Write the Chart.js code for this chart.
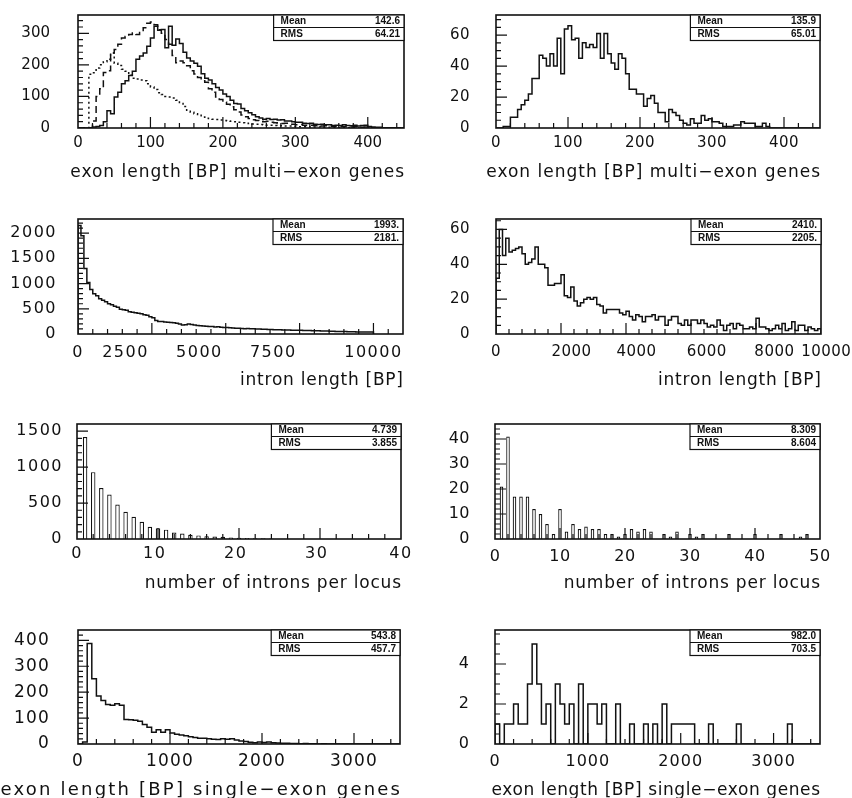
<!DOCTYPE html>
<html>
<head>
<meta charset="utf-8">
<title>Gene structure statistics</title>
<script src="https://cdn.jsdelivr.net/npm/chart.js@4.4.1/dist/chart.umd.min.js"></script>
<style>
  html, body { margin: 0; padding: 0; background: #fff; }
  #page { position: relative; width: 852px; height: 798px; overflow: hidden; background: #fff; }
  #page canvas { position: absolute; }
</style>
</head>
<body>
<div id="page"></div>
<script>
// ---------------- data ----------------
// exon length, multi-exon genes (left): 5 bp bins from 0
const exonBinWidth = 5;
const multiExonLenAll = [0,0,0,1,3,5,8,20,55,45, 98,113,140,150,166,180,218,228,238,259,
  285,322,310,312,254,322,262,282,268,240, 222,212,205,196,172,158,152,140,128,120,
  108,100,88,78,76,62,55,48,42,36, 32,28,30,27,28,25,26,22,22,20,
  18,18,15,14,15,12,11,12,10,10, 8,9,8,10,8,7,9,6,8,9, 5,3,2,2,1,1,1,0,1,0];
const multiExonLenInternal = [0,0,0,0,22,100,124,176,181,238, 249,265,285,290,296,301,296,306,318,332,
  336,327,311,300,280,265,230,207,212,207, 197,181,171,160,150,145,124,113,98,90,
  82,75,67,58,51,41,36,30,26,24, 22,20,21,18,17,15,14,15,12,12,
  10,11,9,8,9,7,8,6,7,6, 5,6,4,5,4,3,4,3,2,3, 2,1,1,1,0,1,0,0,0,0];
const multiExonLenTerminal = [0,0,0,170,175,190,200,210,218,238, 205,198,186,180,167,158,155,152,150,140,
  130,122,112,106,100,98,95,88,78,68, 56,50,45,40,35,31,30,28,27,25,
  24,22,21,20,18,17,15,14,13,12, 11,10,9,9,8,7,7,6,6,5,
  5,4,4,4,3,3,3,2,2,2, 2,1,1,1,1,1,1,0,0,0, 0,0,0,0,0,0,0,0,0,0];
// exon length, multi-exon genes (right)
const multiExonLenRight = [0,0,1,1,7,7,12,15,18,22, 32,32,47,45,40,48,40,58,35,64,
  66,57,58,45,55,52,54,52,61,45, 61,48,42,38,48,45,35,25,25,22,
  22,14,19,21,16,10,10,4,12,10, 8,5,3,2,6,3,3,8,5,6,
  4,4,3,1,1,1,2,2,4,3, 3,3,1,1,3,1,0,0,0,0, 0,0,0,0,0,0,0,0,0,0];

// intron length: 100 bp bins from 0
const intronBinWidth = 100;
const intronLenLeft = [2150,1950,1300,1020,880,800,760,700,670,640, 600,580,550,530,490,480,470,440,430,420,
  410,400,380,370,340,320,270,250,250,240, 235,230,225,215,200,180,185,200,190,180,
  170,165,160,155,150,150,140,145,135,130, 130,125,120,115,115,110,105,108,104,102,
  100,98,95,92,90,88,86,84,82,80, 80,78,76,75,74,72,70,70,68,66,
  64,62,60,60,58,56,55,52,50,50, 48,46,45,44,42,42,40,40,38,38];
const intronLenRight = [32,60,45,55,47,48,49,50,46,40, 41,43,50,40,40,38,28,28,29,29,
  34,22,21,27,19,16,18,20,21,20, 21,17,16,12,14,14,14,14,12,11,
  13,10,8,11,10,7,10,10,11,8, 10,10,5,8,10,10,6,5,8,5,
  8,8,6,8,6,4,5,4,8,5, 2,5,6,3,6,5,3,3,4,3,
  9,4,4,3,2,3,5,3,6,2, 3,7,2,5,5,2,4,3,2,3];

// number of introns per locus
const intronCountLeftN = [1,2,3,4,5,6,7,8,9,10,11,12,13,14,15,16,17,18,19,20,21,22,23,24];
const intronCountLeft = [1420,930,710,620,480,380,310,240,170,150,130,90,75,60,50,40,35,30,20,18,15,12,10,8];
const intronCountRightN = [1,2,3,4,5,6,7,8,9,10,11,12,13,14,15,16,17,18,19,20,21,22,23,24,
  25,26,27,28,29,30,31,32,33,34,35,36,37,38,39,40,41,42,43,44,45,46,47,48];
const intronCountRight = [21,41,17,17,17,12,10,6,2,12,3,6,4,5,4,4,2,2,1,2,4,3,4,3,
  0,2,1,3,0,2,1,2,0,0,0,2,0,0,0,2,0,0,0,2,0,0,1,2];

// exon length, single-exon genes: 50 bp bins from 0
const singleBinWidth = 50;
const singleExonLenLeft = [0,8,388,252,185,168,152,150,155,150, 95,94,92,88,75,65,45,55,45,55,
  42,38,35,32,28,25,22,22,20,18, 17,20,18,20,15,12,10,7,5,8,
  6,8,5,4,3,3,2,2,1,2, 1,1,0,1,0,0,0,0,0,0, 0,0,0,0,0,0,0,0,0,0];
const singleExonLenRight = [1,0,1,1,2,1,1,3,5,3, 1,2,0,3,2,1,2,0,3,0,
  2,2,1,2,0,0,2,0,0,1, 0,0,1,0,1,0,2,0,1,1, 1,1,1,0,0,0,1,0,0,0,
  0,0,1,0,0,0,0,0,0,0, 0,0,0,1,0,0,0,0,0,0];

// tick labels
const ticksExonLenX = [0,100,200,300,400];
const ticksExonLeftY = [0,100,200,300];
const ticksExonRightY = [0,20,40,60];
const ticksIntronLeftX = [0,2500,5000,7500,10000];
const ticksIntronLeftY = [0,500,1000,1500,2000];
const ticksIntronRightX = [0,2000,4000,6000,8000,10000];
const ticksIntronRightY = [0,20,40,60];
const ticksCountLeftX = [0,10,20,30,40];
const ticksCountLeftY = [0,500,1000,1500];
const ticksCountRightX = [0,10,20,30,40,50];
const ticksCountRightY = [0,10,20,30,40];
const ticksSingleX = [0,1000,2000,3000];
const ticksSingleLeftY = [0,100,200,300,400];
const ticksSingleRightY = [0,2,4];

// statistics boxes: [mean, rms]
const statsExonMultiLeft = ['142.6', '64.21'];
const statsExonMultiRight = ['135.9', '65.01'];
const statsIntronLeft = ['1993.', '2181.'];
const statsIntronRight = ['2410.', '2205.'];
const statsCountLeft = ['4.739', '3.855'];
const statsCountRight = ['8.309', '8.604'];
const statsSingleLeft = ['543.8', '457.7'];
const statsSingleRight = ['982.0', '703.5'];

// ---------------- drawing ----------------
const INK = '#111';
const FONT = '"DejaVu Sans", "Liberation Sans", sans-serif';
const X_H = 60, PAD_R = 62;
Chart.defaults.font.family = FONT;
Chart.defaults.color = INK;

// histogram outline: each value spans [lo + i*w, lo + (i+1)*w]
function stepPoints(lo, w, vals) {
  const pts = [{ x: lo, y: 0 }];
  vals.forEach((v, i) => pts.push({ x: lo + i * w, y: v }));
  pts.push({ x: lo + vals.length * w, y: vals[vals.length - 1] });
  pts.push({ x: lo + vals.length * w, y: 0 });
  return pts;
}
function stepSet(lo, w, vals, dash) {
  return { type: 'line', data: stepPoints(lo, w, vals), stepped: true, borderColor: INK,
    borderWidth: 1.5, borderDash: dash || [], pointRadius: 0, fill: false, tension: 0 };
}
function barSet(ns, counts) {
  return { type: 'bar', data: ns.map((n, i) => ({ x: n, y: counts[i] })), backgroundColor: '#fff',
    borderColor: INK, borderWidth: 1.2, borderSkipped: 'start', barPercentage: 0.55,
    categoryPercentage: 1, grouped: false };
}

// frame, inward tick marks, statistics box and axis title
const pawPlugin = {
  id: 'paw',
  beforeDraw(chart, args, o) {
    chart.ctx.letterSpacing = (o.tickSpacing || 0) + 'px';
  },
  afterDraw(chart, args, o) {
    const { ctx, chartArea: a } = chart;
    const xs = chart.scales.x, ys = chart.scales.y;
    ctx.save();
    ctx.strokeStyle = INK;
    ctx.fillStyle = INK;
    ctx.lineWidth = 1.2;
    ctx.beginPath();
    const marks = (scale, minor, major, draw) => {
      const i0 = Math.ceil(scale.min / minor - 1e-9), i1 = Math.floor(scale.max / minor + 1e-9);
      for (let i = i0; i <= i1; i++) {
        const v = i * minor;
        if (Math.abs(v - scale.min) < 1e-9 || Math.abs(v - scale.max) < 1e-9) continue;
        const isMajor = Math.abs(v / major - Math.round(v / major)) < 1e-6;
        draw(scale.getPixelForValue(v), isMajor ? 11 : 5);
      }
    };
    marks(xs, o.xMinor, o.xMajor, (p, len) => { ctx.moveTo(p, a.bottom); ctx.lineTo(p, a.bottom - len); });
    marks(ys, o.yMinor, o.yMajor, (p, len) => { ctx.moveTo(a.left, p); ctx.lineTo(a.left + len, p); });
    ctx.stroke();

    ctx.lineWidth = 1.6;
    ctx.strokeRect(a.left, a.top, a.width, a.height);

    // statistics box in the top-right corner
    const bw = a.width * 0.4, bh = 25.5, bx = a.right - bw, by = a.top;
    ctx.fillStyle = '#fff';
    ctx.fillRect(bx, by, bw, bh);
    ctx.lineWidth = 1.2;
    ctx.strokeRect(bx, by, bw, bh);
    ctx.beginPath();
    ctx.moveTo(bx, by + 12.5); ctx.lineTo(a.right, by + 12.5);
    ctx.stroke();
    ctx.fillStyle = INK;
    ctx.letterSpacing = '0px';
    ctx.font = 'bold 10px "Liberation Sans", sans-serif';
    ctx.textBaseline = 'middle';
    ctx.textAlign = 'left';
    ctx.fillText('Mean', bx + 7, by + 6.5);
    ctx.fillText('RMS', bx + 7, by + 19.5);
    ctx.textAlign = 'right';
    ctx.fillText(o.stats[0], a.right - 4, by + 6.5);
    ctx.fillText(o.stats[1], a.right - 4, by + 19.5);

    // axis title, right-aligned to the frame
    ctx.letterSpacing = o.titleSpacing + 'px';
    ctx.font = o.titleSize + 'px ' + FONT;
    ctx.textAlign = 'right';
    ctx.fillText(o.title, a.right + o.titleSpacing, a.bottom + o.titleDy);
    ctx.restore();
  }
};

// xShift: horizontal nudge (px) of each x label, realised with padding spaces
const panels = [
  { frame: [78, 15, 404, 128], left: 0, x: [0, 450, 20, 100], y: [0, 358, 20, 100],
    xLab: ticksExonLenX, yLab: ticksExonLeftY, tickSize: 15, tickSp: 0, xDy: 15, yGap: 28,
    title: 'exon length [BP] multi−exon genes', titleSize: 17, titleSp: 1, titleDy: 45,
    stats: statsExonMultiLeft,
    sets: [stepSet(0, exonBinWidth, multiExonLenTerminal, [2, 3]),
           stepSet(0, exonBinWidth, multiExonLenInternal, [7, 4]),
           stepSet(0, exonBinWidth, multiExonLenAll)] },
  { frame: [496, 15, 820, 128], left: 415, x: [0, 450, 20, 100], y: [0, 73, 5, 20],
    xLab: ticksExonLenX, yLab: ticksExonRightY, tickSize: 15, tickSp: 0.5, xDy: 15, yGap: 26,
    title: 'exon length [BP] multi−exon genes', titleSize: 17, titleSp: 1, titleDy: 45,
    stats: statsExonMultiRight,
    sets: [stepSet(0, exonBinWidth, multiExonLenRight)] },
  { frame: [78, 219, 403, 334], left: 0, x: [0, 11000, 500, 2500], y: [0, 2280, 100, 500],
    xLab: ticksIntronLeftX, yLab: ticksIntronLeftY, tickSize: 16, tickSp: 1.5, xDy: 19, yGap: 21,
    xShift: [0, -27, -27, -27, 0],
    title: 'intron length [BP]', titleSize: 17, titleSp: 0.75, titleDy: 46.5,
    stats: statsIntronLeft,
    sets: [stepSet(0, intronBinWidth, intronLenLeft)] },
  { frame: [496, 219, 821, 334], left: 415, x: [0, 10000, 400, 2000], y: [0, 66, 5, 20],
    xLab: ticksIntronRightX, yLab: ticksIntronRightY, tickSize: 15, tickSp: 0.5, xDy: 18, yGap: 26,
    xShift: [0, 11, 11, 15, 19, 5],
    title: 'intron length [BP]', titleSize: 17, titleSp: 0.75, titleDy: 46.5,
    stats: statsIntronRight,
    sets: [stepSet(0, intronBinWidth, intronLenRight)] },
  { frame: [77, 424, 401, 539], left: 0, x: [0, 40, 2, 10], y: [0, 1600, 100, 500],
    xLab: ticksCountLeftX, yLab: ticksCountLeftY, tickSize: 16, tickSp: 1.5, xDy: 14.5, yGap: 14,
    xShift: [0, -4, -4, -4, 0],
    title: 'number of introns per locus', titleSize: 17, titleSp: 0.8, titleDy: 44.5,
    stats: statsCountLeft,
    sets: [barSet(intronCountLeftN, intronCountLeft)] },
  { frame: [495, 424, 820, 539], left: 415, x: [0, 50, 2, 10], y: [0, 46, 2, 10],
    xLab: ticksCountRightX, yLab: ticksCountRightY, tickSize: 16, tickSp: 0.5, xDy: 17.5, yGap: 25,
    title: 'number of introns per locus', titleSize: 17, titleSp: 0.8, titleDy: 44.5,
    stats: statsCountRight,
    sets: [barSet(intronCountRightN, intronCountRight)] },
  { frame: [78, 630, 400, 744], left: 0, x: [0, 3500, 200, 1000], y: [0, 440, 20, 100],
    xLab: ticksSingleX, yLab: ticksSingleLeftY, tickSize: 17, tickSp: 1.2, xDy: 17.5, yGap: 28,
    title: 'exon length [BP] single−exon genes', titleSize: 18, titleSp: 2.2, titleDy: 46,
    stats: statsSingleLeft,
    sets: [stepSet(0, singleBinWidth, singleExonLenLeft)] },
  { frame: [495, 630, 820, 744], left: 415, x: [0, 3500, 200, 1000], y: [0, 5.7, 0.5, 2],
    xLab: ticksSingleX, yLab: ticksSingleRightY, tickSize: 16, tickSp: 1, xDy: 17.5, yGap: 25,
    title: 'exon length [BP] single−exon genes', titleSize: 17, titleSp: 0.6, titleDy: 47,
    stats: statsSingleRight,
    sets: [stepSet(0, singleBinWidth, singleExonLenRight)] }
];

const page = document.getElementById('page');
panels.forEach((p) => {
  const [l, t, r, b] = p.frame;
  // room above the frame for the top y label and its padding
  const padT = Math.ceil(p.yGap + p.tickSize * 0.6 + 3);
  const left = p.left, top = t - padT;
  const w = r + PAD_R - left;
  const h = (b - t) + padT + X_H;
  const yW = l - left, padR = w - (r - left);
  const spaceW = 0.318 * p.tickSize + p.tickSp;
  const xLabel = (v, i) => {
    const s = p.xShift ? p.xShift[i] : 0;
    const n = Math.round(Math.abs(s) * 2 / spaceW);
    return s > 0 ? ' '.repeat(n) + v : String(v) + ' '.repeat(n);
  };
  const cv = document.createElement('canvas');
  cv.width = w; cv.height = h;
  cv.style.left = left + 'px'; cv.style.top = top + 'px';
  cv.style.width = w + 'px'; cv.style.height = h + 'px';
  page.appendChild(cv);

  new Chart(cv, {
    type: p.sets[0].type,
    data: { datasets: p.sets },
    plugins: [pawPlugin],
    options: {
      responsive: false, animation: false, events: [],
      layout: { padding: { left: 0, top: padT, right: padR, bottom: 0 } },
      plugins: {
        legend: { display: false }, tooltip: { enabled: false },
        paw: { xMinor: p.x[2], xMajor: p.x[3], yMinor: p.y[2], yMajor: p.y[3],
               tickSpacing: p.tickSp, stats: p.stats, title: p.title,
               titleSize: p.titleSize, titleSpacing: p.titleSp, titleDy: p.titleDy }
      },
      scales: {
        x: {
          type: 'linear', min: p.x[0], max: p.x[1], offset: false,
          grid: { display: false, drawTicks: false }, border: { display: false },
          ticks: { font: { size: p.tickSize }, color: INK, padding: p.xDy - p.tickSize * 0.6,
                   maxRotation: 0, autoSkip: false, callback: (v, i) => xLabel(v, i) },
          afterBuildTicks: (s) => { s.ticks = p.xLab.map((v) => ({ value: v })); },
          afterFit: (s) => { s.height = X_H; }
        },
        y: {
          type: 'linear', min: p.y[0], max: p.y[1],
          grid: { display: false, drawTicks: false }, border: { display: false },
          ticks: { font: { size: p.tickSize }, color: INK, padding: p.yGap,
                   autoSkip: false, callback: (v) => String(v) },
          afterBuildTicks: (s) => { s.ticks = p.yLab.map((v) => ({ value: v })); },
          afterFit: (s) => { s.width = yW; }
        }
      }
    }
  });
});
</script>
</body>
</html>
